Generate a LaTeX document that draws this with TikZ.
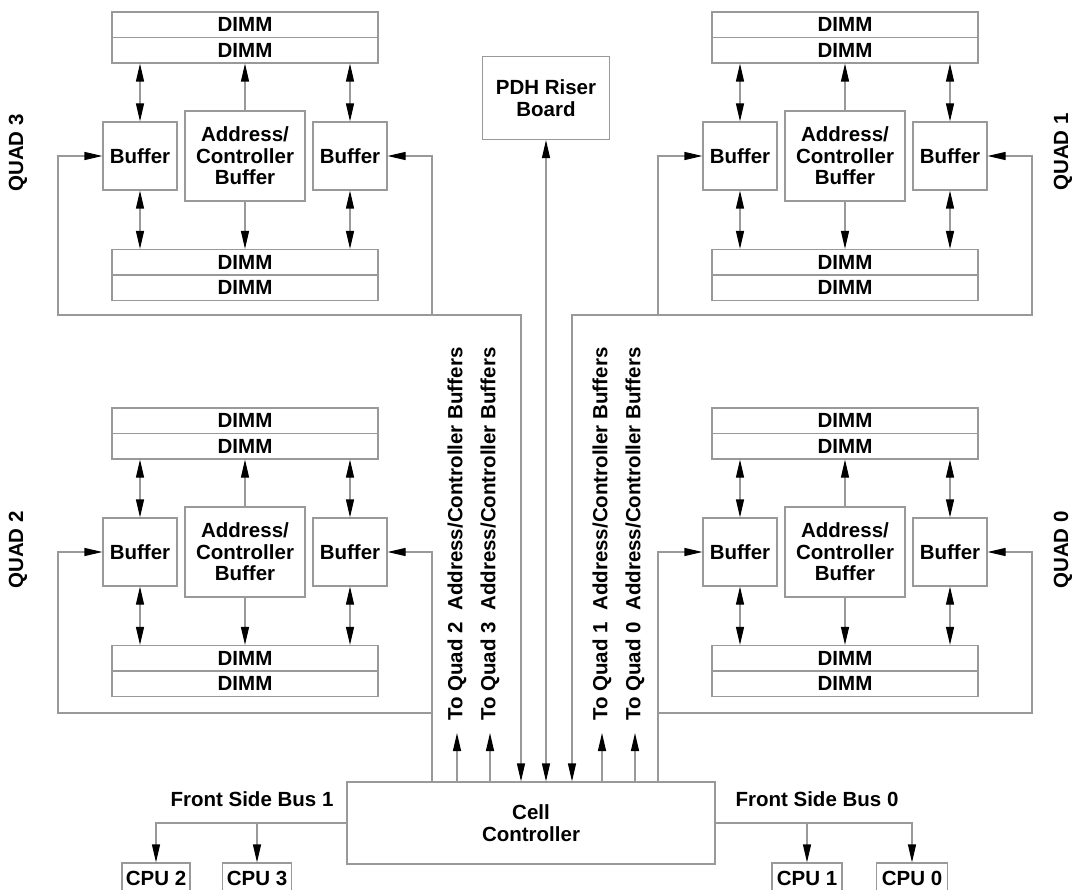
\documentclass[tikz,border=0pt]{standalone}
\usepackage{fontspec}
\setmainfont{Liberation Sans}
\usetikzlibrary{arrows.meta,positioning}

\begin{document}
\begin{tikzpicture}
[x=1pt,y=-1pt,
every node/.style={font=\fontsize{20.5}{21.5}\selectfont\bfseries,inner sep=0pt},
box/.style={rectangle,draw=black!40,line width=1.2pt},
dimm/.style={box,minimum width=266pt,minimum height=25.5pt},
buf/.style={box,minimum width=74pt,minimum height=68pt},
acbuf/.style={box,minimum width=120pt,minimum height=90pt,align=center},
wire/.style={draw=black!40,line width=1.2pt},
arr/.style={wire,-{Triangle[length=18pt,width=8pt,color=black]}},
darr/.style={wire,{Triangle[length=18pt,width=8pt,color=black]}-{Triangle[length=18pt,width=8pt,color=black]}},
vtext/.style={rotate=90,inner xsep=12pt,anchor=west}]
\useasboundingbox (0,0) rectangle (1082,890);

% the four memory quads
\foreach \q/\cx/\cy in {3/245/0,2/245/396,1/845/0,0/845/396} {
\begin{scope}[shift={(\cx,\cy)}]
\node at (0,24.75) [dimm] (da\q) {DIMM};
\node at (0,50.25) [dimm] (db\q) {DIMM};
\node at (-105,156) [buf] (bufl\q) {Buffer};
\node at (0,156) [acbuf] (acb\q) {Address/\\Controller\\Buffer};
\node at (105,156) [buf] (bufr\q) {Buffer};
\node at (0,262.25) [dimm] (dc\q) {DIMM};
\node at (0,287.75) [dimm] (dd\q) {DIMM};
\draw [darr] (db\q.south -| bufl\q.north) -- (bufl\q.north);
\draw [arr] (acb\q.north) -- (db\q.south);
\draw [darr] (db\q.south -| bufr\q.north) -- (bufr\q.north);
\draw [darr] (bufl\q.south) -- (bufl\q.south |- dc\q.north);
\draw [arr] (acb\q.south) -- (dc\q.north);
\draw [darr] (bufr\q.south) -- (bufr\q.south |- dc\q.north);
\end{scope}
}

\node at (18,153) [rotate=90] (quad3) {QUAD 3};
\node at (18,550) [rotate=90] (quad2) {QUAD 2};
\node at (1063,152) [rotate=90] (quad1) {QUAD 1};
\node at (1063,550) [rotate=90] (quad0) {QUAD 0};

\node at (546,98) [box,minimum width=127pt,minimum height=83pt,align=center] (pdh) {PDH Riser\\Board};
\node at (531,823) [box,minimum width=368pt,minimum height=82pt,align=center] (cc) {Cell\\Controller};

% front side buses
\node at (252,799) (fsb1) {Front Side Bus 1};
\node at (817,799) (fsb0) {Front Side Bus 0};
\node at (156,878) [box,minimum width=68pt,minimum height=30pt] (cpu2) {CPU 2};
\node at (257,878) [box,minimum width=69pt,minimum height=30pt] (cpu3) {CPU 3};
\node at (807,878) [box,minimum width=70pt,minimum height=30pt] (cpu1) {CPU 1};
\node at (912,878) [box,minimum width=71pt,minimum height=30pt] (cpu0) {CPU 0};
\draw [arr] (cc.west) -| (cpu2.north);
\draw [arr] (cpu3.north |- cc.west) -- (cpu3.north);
\draw [arr] (cc.east) -| (cpu0.north);
\draw [arr] (cpu1.north |- cc.east) -- (cpu1.north);

% address/controller lines
\node at (457,733) [vtext] (toq2) {To Quad 2\ \ Address/Controller Buffers};
\node at (490,733) [vtext] (toq3) {To Quad 3\ \ Address/Controller Buffers};
\node at (602,733) [vtext] (toq1) {To Quad 1\ \ Address/Controller Buffers};
\node at (635,733) [vtext] (toq0) {To Quad 0\ \ Address/Controller Buffers};
\foreach \t in {toq2,toq3,toq1,toq0}
\draw [arr] (\t.west |- cc.north) -- (\t.west);

\draw [darr] (pdh.south |- cc.north) -- (pdh.south);

% buffer feeds
\coordinate (bus3) at (521,315);
\coordinate (bus1) at (572,315);
\draw [darr] (bufl3.west) -| (58,315) -- (bus3) -- (bus3 |- cc.north);
\draw [arr] (432,315) |- (bufr3.east);
\draw [arr] (cc.north -| 432,0) |- (bufr2.east);
\draw [arr] (432,713) -| (58,552) -- (bufl2.west);
\draw [darr] (bufr1.east) -| (1032,315) -- (bus1) -- (bus1 |- cc.north);
\draw [arr] (658,315) |- (bufl1.west);
\draw [arr] (cc.north -| 658,0) |- (bufl0.west);
\draw [arr] (658,713) -| (1032,552) -- (bufr0.east);
\end{tikzpicture}
\end{document}
